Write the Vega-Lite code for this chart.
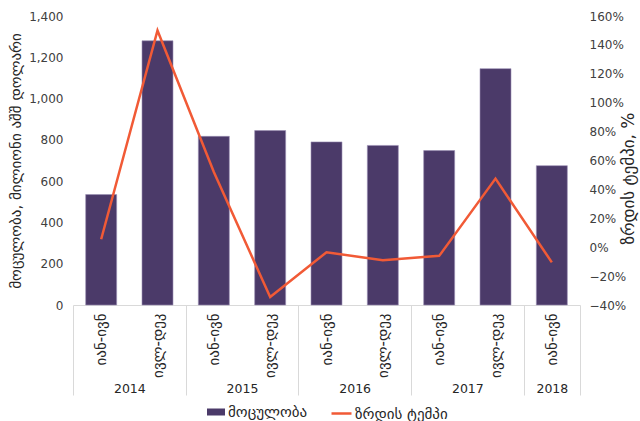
{
  "$schema": "https://vega.github.io/schema/vega-lite/v6.json",
  "width": 507,
  "height": 289,
  "autosize": {"type": "none"},
  "padding": {"left": 73, "top": 16, "right": 60, "bottom": 116},
  "config": {
    "font": "DejaVu Sans",
    "view": {"stroke": null},
    "axis": {
      "labelFont": "DejaVu Sans",
      "labelFontSize": 12,
      "labelColor": "#404040",
      "titleFont": "DejaVu Sans",
      "titleFontSize": 15,
      "titleFontWeight": "normal",
      "titleColor": "#262626",
      "grid": false
    },
    "legend": {
      "orient": "bottom",
      "title": null,
      "labelFont": "DejaVu Sans",
      "labelFontSize": 15,
      "labelColor": "#262626",
      "labelOffset": 2,
      "offset": 6,
      "layout": {"bottom": {"anchor": "middle", "direction": "horizontal", "margin": 22}}
    }
  },
  "datasets": {
    "main": [
      {"period": "2014 იან-ივნ", "volume": 535, "growth": 0.055},
      {"period": "2014 ივლ-დეკ", "volume": 1280, "growth": 1.50},
      {"period": "2015 იან-ივნ", "volume": 817, "growth": 0.52},
      {"period": "2015 ივლ-დეკ", "volume": 845, "growth": -0.345},
      {"period": "2016 იან-ივნ", "volume": 790, "growth": -0.035},
      {"period": "2016 ივლ-დეკ", "volume": 773, "growth": -0.09},
      {"period": "2017 იან-ივნ", "volume": 748, "growth": -0.06},
      {"period": "2017 ივლ-დეკ", "volume": 1145, "growth": 0.475},
      {"period": "2018 იან-ივნ", "volume": 675, "growth": -0.105}
    ],
    "years": [
      {"year": "2014", "mid": 1},
      {"year": "2015", "mid": 3},
      {"year": "2016", "mid": 5},
      {"year": "2017", "mid": 7},
      {"year": "2018", "mid": 8.5}
    ],
    "seps": [
      {"edge": 0}, {"edge": 2}, {"edge": 4}, {"edge": 6}, {"edge": 8}, {"edge": 9}
    ]
  },
  "layer": [
    {
      "data": {"name": "main"},
      "encoding": {
        "x": {
          "field": "period",
          "type": "ordinal",
          "sort": null,
          "scale": {"paddingInner": 0.45, "paddingOuter": 0.225},
          "axis": {
            "orient": "bottom",
            "title": null,
            "labelAngle": 270,
            "labelAlign": "right",
            "labelBaseline": "middle",
            "labelPadding": 8,
            "labelFontSize": 15,
            "labelColor": "#262626",
            "ticks": false,
            "domainColor": "#d9d9d9",
            "labelExpr": "split(datum.label, ' ')[1]"
          }
        }
      },
      "layer": [
        {
          "mark": {"type": "bar", "stroke": "#9b8fb3", "strokeWidth": 0.6},
          "encoding": {
            "y": {
              "field": "volume",
              "type": "quantitative",
              "scale": {"domain": [0, 1400], "nice": false},
              "axis": {
                "title": "მოცულობა, მილიონი აშშ დოლარი",
                "values": [0, 200, 400, 600, 800, 1000, 1200, 1400],
                "format": ",.0f",
                "ticks": false,
                "domain": false,
                "labelPadding": 10,
                "titlePadding": 5
              }
            },
            "color": {
              "datum": "მოცულობა",
              "scale": {"range": ["#4b3a69"]},
              "legend": {"symbolType": "M-0.9,-0.35H0.9V0.35H-0.9Z", "symbolSize": 400, "symbolStrokeWidth": 0}
            }
          }
        },
        {
          "mark": {"type": "line", "strokeWidth": 2.5},
          "encoding": {
            "y": {
              "field": "growth",
              "type": "quantitative",
              "scale": {"domain": [-0.4, 1.6], "nice": false, "zero": false},
              "axis": {
                "orient": "right",
                "title": "ზრდის ტემპი, %",
                "titleAngle": 270,
                "titleFontSize": 17,
                "titleY": 162,
                "values": [-0.4, -0.2, 0, 0.2, 0.4, 0.6, 0.8, 1.0, 1.2, 1.4, 1.6],
                "format": ".0%",
                "ticks": false,
                "domain": false,
                "labelPadding": 9,
                "titlePadding": 12
              }
            },
            "stroke": {
              "datum": "ზრდის ტემპი",
              "scale": {"range": ["#f15a36"]},
              "legend": {"symbolType": "stroke", "symbolStrokeWidth": 2.5, "symbolSize": 400}
            }
          }
        }
      ],
      "resolve": {"scale": {"y": "independent"}}
    },
    {
      "data": {"name": "years"},
      "mark": {"type": "point", "opacity": 0},
      "encoding": {
        "x": {
          "field": "mid",
          "type": "quantitative",
          "scale": {"domain": [0, 9], "nice": false, "zero": false},
          "axis": {
            "orient": "bottom",
            "title": null,
            "values": [1, 3, 5, 7, 8.5],
            "labelExpr": "datum.value == 1 ? '2014' : datum.value == 3 ? '2015' : datum.value == 5 ? '2016' : datum.value == 7 ? '2017' : '2018'",
            "ticks": false,
            "domain": false,
            "labelPadding": 77,
            "labelFontSize": 12.5,
            "labelFlush": false,
            "labelOverlap": false,
            "labelColor": "#262626"
          }
        }
      }
    },
    {
      "data": {"name": "seps"},
      "mark": {"type": "point", "opacity": 0},
      "encoding": {
        "x": {
          "field": "edge",
          "type": "quantitative",
          "scale": {"domain": [0, 9], "nice": false, "zero": false},
          "axis": {
            "orient": "bottom",
            "title": null,
            "values": [0, 2, 4, 6, 8, 9],
            "labels": false,
            "domain": false,
            "tickSize": 90,
            "tickColor": "#d9d9d9"
          }
        }
      }
    }
  ],
  "resolve": {"scale": {"x": "independent", "y": "independent"}}
}
